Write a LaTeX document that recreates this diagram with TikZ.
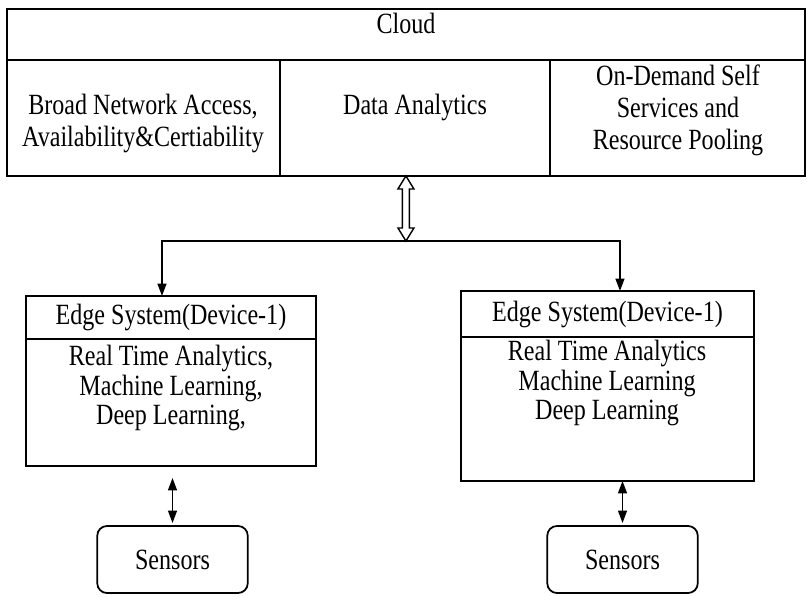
\documentclass[tikz,border=0pt]{standalone}
\usepackage{fontspec}
\usepackage{graphicx}
\setmainfont{Liberation Serif}
\usetikzlibrary{arrows.meta,positioning}
\newcommand{\tall}[1]{\scalebox{1}[1.22]{#1}}

\begin{document}
\begin{tikzpicture}[x=0.02cm,y=-0.02cm,
    cell/.style={draw, line width=1pt, inner sep=0pt, outer sep=0pt, anchor=north west, align=center},
    txt/.style={inner sep=0pt, align=center},
    sensor/.style={draw, line width=1pt, rounded corners=5.5pt, inner sep=0pt, outer sep=0pt, minimum width=3.01cm, minimum height=1.34cm},
    link/.style={line width=1pt, -{Triangle[length=7pt,width=5pt]}},
    both/.style={line width=1pt, {Triangle[length=7pt,width=5pt]}-{Triangle[length=7pt,width=5pt]}},
    font=\fontsize{13.7}{18.2}\selectfont]

\useasboundingbox (0,0) rectangle (807,597);

% cloud layer
\node[cell, minimum width=15.96cm, minimum height=3.34cm] (cloud) at (7,9) {};
\node[cell, minimum width=15.96cm, minimum height=1.02cm] (title) at (7,9) {};
\node[cell, minimum width=5.46cm, minimum height=2.32cm] (access) at (7,60) {};
\node[cell, minimum width=5.4cm, minimum height=2.32cm] (analytics) at (280,60) {};
\node[cell, minimum width=5.1cm, minimum height=2.32cm] (pooling) at (550,60) {};
\node[txt] (cloudtxt) at (406,23) {\tall{Cloud}};
\node[txt] (accesstxt) at (143,123) {\tall{Broad Network Access,}\\\tall{Availability\&Certiability}};
\node[txt] (datatxt) at (415,107) {\tall{Data Analytics}};
\node[txt] (pooltxt) at (678,110) {\tall{On-Demand Self}\\\tall{Services and}\\\tall{Resource Pooling}};

% hollow double arrow down to the hub
\coordinate (hub) at (cloud.south |- 0,241);
\draw[line width=0.8pt, fill=white] (cloud.south) -- ++(-8,13) -- ++(4.5,0) -- ++(0,39) -- ++(-4.5,0) -- (hub)
    -- ++(8,-13) -- ++(-4.5,0) -- ++(0,-39) -- ++(4.5,0) -- cycle;

% edge systems
\node[cell, minimum width=5.8cm, minimum height=0.86cm] (edgeLhead) at (26,296) {\tall{Edge System(Device-1)}};
\node[cell, minimum width=5.8cm, minimum height=2.54cm] (edgeLbody) at (26,339) {};
\node[txt, font=\fontsize{13.7}{17}\selectfont] (edgeLtxt) at (171,388) {\tall{Real Time Analytics,}\\\tall{Machine Learning,}\\\tall{Deep Learning,}};

\node[cell, minimum width=5.86cm, minimum height=0.92cm] (edgeRhead) at (461,291) {\tall{Edge System(Device-1)}};
\node[cell, minimum width=5.86cm, minimum height=2.88cm] (edgeRbody) at (461,337) {};
\node[txt, font=\fontsize{13.7}{17}\selectfont] (edgeRtxt) at (607,383) {\tall{Real Time Analytics}\\\tall{Machine Learning}\\\tall{Deep Learning}};

\draw[link] (hub) -| ([xshift=-0.18cm]edgeLhead.north);
\draw[link] (hub) -| ([xshift=0.25cm]edgeRhead.north);

% sensors
\node[sensor] (sensL) at (172.5,559.5) {\tall{Sensors}};
\node[sensor] (sensR) at (622.5,559.5) {\tall{Sensors}};

\coordinate (sLtop) at (sensL.north |- edgeLbody.south);
\coordinate (sRtop) at (sensR.north |- edgeRbody.south);
\draw[both] ([yshift=-0.24cm]sLtop) -- ([yshift=0.06cm]sensL.north);
\draw[both] (sRtop) -- ([yshift=0.06cm]sensR.north);
\end{tikzpicture}
\end{document}
